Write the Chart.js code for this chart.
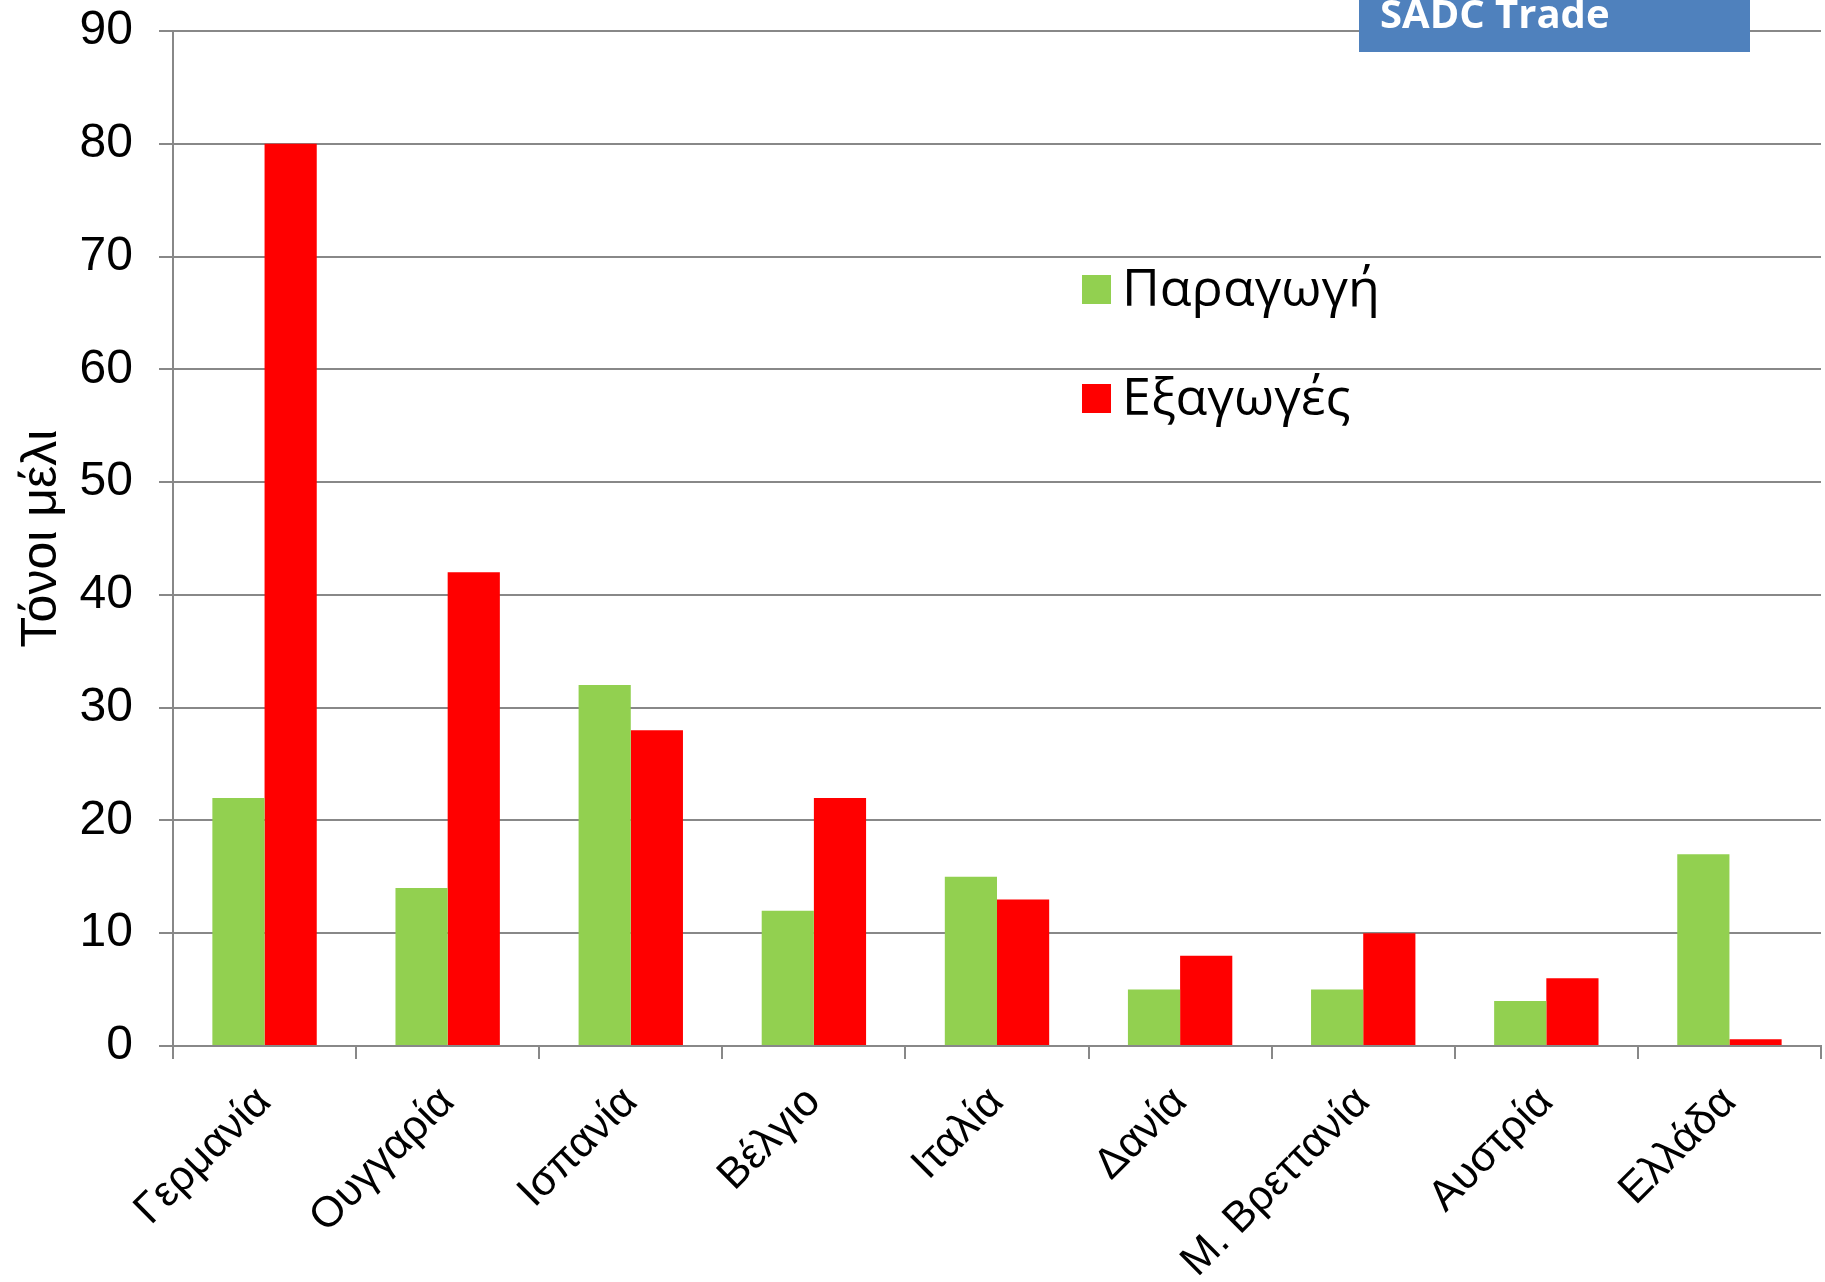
<!DOCTYPE html>
<html>
<head>
<meta charset="utf-8">
<script src="https://cdn.jsdelivr.net/npm/chart.js@4.4.0/dist/chart.umd.min.js"></script>
<style>
  body { margin: 0; background: #fff; }
  #wrap { width: 1825px; height: 1282px; }
</style>
</head>
<body>
<div id="wrap"><canvas id="myChart" width="1825" height="1282"></canvas></div>
<script>
var countries = ["Γερμανία", "Ουγγαρία", "Ισπανία", "Βέλγιο", "Ιταλία", "Δανία", "Μ. Βρεττανία", "Αυστρία", "Ελλάδα"];
var paragogi = [22, 14, 32, 12, 15, 5, 5, 4, 17];
var exagoges = [80, 42, 28, 22, 13, 8, 10, 6, 0.6];
var yTicks = [0, 10, 20, 30, 40, 50, 60, 70, 80, 90];
var yTitle = "Τόνοι μέλι";
var badgeText = "SADC Trade";

var gridColor = "#888888";

// legend drawn inside the plot, plus the blue badge in the top corner
var extras = {
  id: "extras",
  afterDraw: function (chart) {
    var c = chart.ctx;
    c.save();
    var rows = [289, 398];
    chart.data.datasets.forEach(function (ds, i) {
      c.fillStyle = ds.backgroundColor;
      c.fillRect(1082, rows[i] - 14, 29, 29);
      c.fillStyle = "#000";
      c.font = "52px 'Open Sans'";
      c.textBaseline = "middle";
      c.textAlign = "left";
      c.fillText(ds.label, 1122, rows[i] + 2);
    });
    c.fillStyle = "#4F81BD";
    c.fillRect(1359, 0, 391, 52);
    c.fillStyle = "#fff";
    c.font = "bold 40px 'Open Sans'";
    c.textBaseline = "alphabetic";
    c.fillText(badgeText, 1380, 28);
    c.restore();
  },
};

var ctx = document.getElementById("myChart").getContext("2d");
var myChart = new Chart(ctx, {
  type: "bar",
  data: {
    labels: countries,
    datasets: [
      {
        label: "Παραγωγή",
        data: paragogi,
        backgroundColor: "#92D050",
      },
      {
        label: "Εξαγωγές",
        data: exagoges,
        backgroundColor: "#FF0000",
      },
    ],
  },
  plugins: [extras],
  options: {
    responsive: false,
    devicePixelRatio: 1,
    animation: false,
    layout: {
      padding: { top: 31, right: 4, left: 0, bottom: 0 },
    },
    categoryPercentage: 0.57,
    barPercentage: 1,
    plugins: {
      legend: { display: false },
      tooltip: { enabled: false },
    },
    scales: {
      x: {
        grid: {
          display: true,
          drawOnChartArea: false,
          drawTicks: true,
          tickLength: 13,
          color: gridColor,
          lineWidth: 2,
        },
        border: { color: gridColor, width: 2 },
        ticks: {
          autoSkip: false,
          minRotation: 45,
          maxRotation: 45,
          padding: 18,
          color: "#000",
          font: { family: "Arial, 'Liberation Sans'", size: 43 },
        },
        afterFit: function (scale) {
          scale.height = 236;
        },
      },
      y: {
        min: 0,
        max: 90,
        afterBuildTicks: function (scale) {
          scale.ticks = yTicks.map(function (v) {
            return { value: v };
          });
        },
        grid: {
          color: gridColor,
          lineWidth: 2,
          tickLength: 14,
        },
        border: { color: gridColor, width: 2 },
        ticks: {
          padding: 26,
          color: "#000",
          font: { family: "Arial, 'Liberation Sans'", size: 48 },
        },
        title: {
          display: true,
          text: yTitle,
          color: "#000",
          padding: { top: 12, bottom: 0 },
          font: { family: "Arial, 'Liberation Sans'", size: 50 },
        },
        afterFit: function (scale) {
          scale.width = 173;
          scale.paddingTop = 0;
          scale.paddingBottom = 0;
        },
      },
    },
  },
});
</script>
</body>
</html>
